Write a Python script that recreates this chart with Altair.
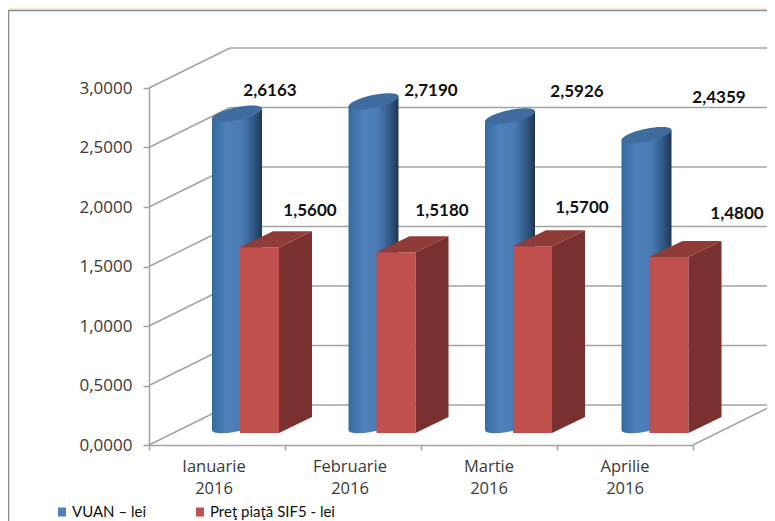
import altair as alt
import numpy as np
import pandas as pd

# ---------- values ----------
months = ["Ianuarie\n2016", "Februarie\n2016", "Martie\n2016", "Aprilie\n2016"]
vuan = [2.6163, 2.7190, 2.5926, 2.4359]
pret = [1.5600, 1.5180, 1.5700, 1.4800]
y_ticks = [0, 0.5, 1, 1.5, 2, 2.5, 3]
legend_names = ["VUAN \u2013 lei", "Pre\u0163 pia\u0163\u0103 SIF5 - lei"]

# ---------- layout of the fake 3D box (in pixels, turned into scale units) ----------
PX = 1 / 136.0      # one pixel on the category scale
PY = 1 / 119.0      # one pixel on the value scale
WALL_DX, WALL_DY = 81 * PX, 40 * PY
BASE = 12 * PY
FONT = "Open Sans"
GREY = "#a3a3a3"
TXT = "#3a3a3a"


def fx(page_x):
    return (page_x - 149) * PX


def fy(page_y):
    return (445 - page_y) * PY


# hand-placed labels
vuan_lab = [(270, 91), (431, 91), (577, 92), (719, 98)]
pret_lab = [(310, 211), (442, 211), (582, 208), (737, 214)]
cat_lab_x = [214, 350, 489, 625]

# ---------- tables ----------
wall = []
for t in y_ticks:
    wall.append(dict(x=0, x2=WALL_DX, y=t, y2=t + WALL_DY))
    wall.append(dict(x=WALL_DX, x2=fx(790), y=t + WALL_DY, y2=t + WALL_DY))
wall.append(dict(x=4, x2=4 + WALL_DX, y=0, y2=WALL_DY))
wall = pd.DataFrame(wall)

A, S, B = 25 * PX, 5 * PY, 6.5 * PY
BASE_C = 20 * PY
CX = 0.647
body, caps = [], []
for i, v in enumerate(vuan):
    for u in np.cos(np.linspace(np.pi, 0, 41)):
        root = float(np.sqrt(max(0, 1 - u * u)))
        x = i * 1.0037 + CX + u * A
        top = BASE_C + v
        body.append(dict(i=i, x=x, y=top + S * u, y2=BASE_C + S * u - B * root))
        caps.append(dict(i=i, x=x, y=top + S * u + B * root, y2=top + S * u - B * root))
body, caps = pd.DataFrame(body), pd.DataFrame(caps)

L, R = 91 * PX, 130 * PX
DX, DY = 33 * PX, 16 * PY
front, side, cap = [], [], []
for i, v in enumerate(pret):
    o = i * 1.0037
    t = BASE + v
    front.append(dict(x=o + L, x2=o + R, y=t, y2=BASE))
    side += [dict(i=i, x=o + R, y=t, y2=BASE),
             dict(i=i, x=o + R + DX, y=t + DY, y2=BASE + DY)]
    cap += [dict(i=i, x=o + L, y=t, y2=t),
            dict(i=i, x=o + L + DX, y=t + DY, y2=t),
            dict(i=i, x=o + R, y=t + DY, y2=t),
            dict(i=i, x=o + R + DX, y=t + DY, y2=t + DY)]
front, side, cap = pd.DataFrame(front), pd.DataFrame(side), pd.DataFrame(cap)

fmt = lambda v: f"{v:.4f}".replace(".", ",")
labels = pd.DataFrame(
    [dict(x=fx(p[0]), y=fy(p[1]), t=fmt(v)) for v, p in zip(vuan + pret, vuan_lab + pret_lab)]
)
cats = pd.DataFrame(dict(x=[fx(c) for c in cat_lab_x], y=[fy(467)] * 4, t=months))
frame = pd.DataFrame([dict(x=fx(8.5), x2=fx(800), y=fy(10.5), y2=fy(560))])
leg_sw = pd.DataFrame(dict(x=[fx(58), fx(196)], x2=[fx(66), fx(204)], y=[fy(507.5)] * 2,
                           y2=[fy(516.5)] * 2, c=["#4f81bd", "#c0504d"]))
leg_tx = pd.DataFrame(dict(x=[fx(72), fx(210)], y=[fy(511.5)] * 2, t=legend_names))

# ---------- chart ----------
xs = alt.Scale(domain=[0, 4], nice=False, zero=False)
ys = alt.Scale(domain=[0, 3], nice=False, zero=False)
x_axis = alt.Axis(
    values=[0, 1, 2, 3, 4], labels=False, title=None, grid=False, tickSize=5,
    tickColor=GREY, domainColor=GREY, tickWidth=1.5, domainWidth=1.5, zindex=1)
y_axis = alt.Axis(
    values=y_ticks, title=None, grid=False, tickSize=6, tickColor=GREY, domainColor=GREY,
    tickWidth=1.5, domainWidth=1.5, labelFont=FONT, labelFontSize=17, labelColor=TXT,
    labelPadding=11, zindex=1,
    labelExpr="replace(format(datum.value, '.4f'), '.', ',')")
X = alt.X("x:Q", scale=xs, axis=x_axis)
Y = alt.Y("y:Q", scale=ys, axis=y_axis, stack=None)
X2, Y2 = alt.X2("x2:Q"), alt.Y2("y2:Q")

blue_grad = alt.Gradient(
    gradient="linear", x1=0, y1=0, x2=1, y2=0,
    stops=[alt.GradientStop(color="#356a9f", offset=0),
           alt.GradientStop(color="#4f81bd", offset=0.3),
           alt.GradientStop(color="#4a7ab3", offset=0.6),
           alt.GradientStop(color="#2f5480", offset=0.85),
           alt.GradientStop(color="#1f3652", offset=1)],
)

frame_l = alt.Chart(frame).mark_rect(fill="white", stroke="#8c8c8c", strokeWidth=1.5).encode(
    x=X, x2=X2, y=Y, y2=Y2)
wall_l = alt.Chart(wall).mark_rule(color=GREY, strokeWidth=1.5).encode(x=X, x2=X2, y=Y, y2=Y2)
body_l = alt.Chart(body).mark_area(color=blue_grad, orient="vertical").encode(
    x=X, y=Y, y2=Y2, detail="i:N")
caps_l = alt.Chart(caps).mark_area(color="#3f6c9f", orient="vertical").encode(
    x=X, y=Y, y2=Y2, detail="i:N")
front_l = alt.Chart(front).mark_rect(color="#c0504d").encode(x=X, x2=X2, y=Y, y2=Y2)
side_l = alt.Chart(side).mark_area(color="#7a302e", orient="vertical").encode(
    x=X, y=Y, y2=Y2, detail="i:N")
cap_l = alt.Chart(cap).mark_area(color="#8f3b38", orient="vertical").encode(
    x=X, y=Y, y2=Y2, detail="i:N")
labels_l = alt.Chart(labels).mark_text(
    font="Lato", fontSize=17, fontWeight="bold", color="#111111"
).encode(x=X, y=Y, text="t:N")
cats_l = alt.Chart(cats).mark_text(
    font=FONT, fontSize=16.5, color=TXT, lineBreak="\n", lineHeight=22, baseline="middle"
).encode(x=X, y=Y, text="t:N")
sw_l = alt.Chart(leg_sw).mark_rect().encode(
    x=X, x2=X2, y=Y, y2=Y2, color=alt.Color("c:N", scale=None))
tx_l = alt.Chart(leg_tx).mark_text(
    font="Lato", fontSize=15, color="#111111", align="left"
).encode(x=X, y=Y, text="t:N")

chart = alt.layer(
    frame_l, wall_l, body_l, caps_l, front_l, side_l, cap_l, labels_l, cats_l, sw_l, tx_l
).properties(
    width=544, height=357, background="#f6eed6",
    padding={"left": 141, "top": 80, "right": 74, "bottom": 76},
    autosize=alt.AutoSizeParams(type="none"),
).configure_view(stroke=None)

chart.save("out.html", embed_options={"renderer": "svg", "actions": False})
